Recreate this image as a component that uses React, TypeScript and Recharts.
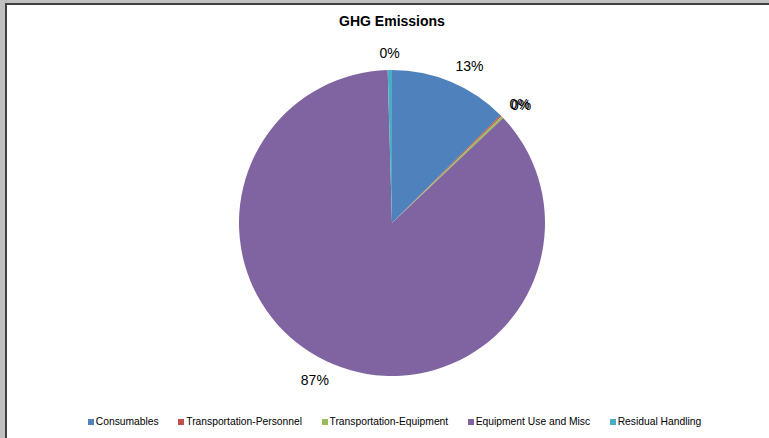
import { PieChart, Pie, Cell, Legend } from "recharts";

const categories = [
  "Consumables",
  "Transportation-Personnel",
  "Transportation-Equipment",
  "Equipment Use and Misc",
  "Residual Handling",
];

const emissionShares = [12.55, 0.15, 0.25, 86.6, 0.45];

const sliceColors = ["#4F81BD", "#C0504D", "#9BBB59", "#8064A2", "#4BACC6"];

const chartData = categories.map((name, i) => ({
  name,
  value: emissionShares[i],
  color: sliceColors[i],
}));

const RADIAN = Math.PI / 180;

const renderLabel = (props: any) => {
  const { cx, cy, midAngle, outerRadius, percent } = props;
  const r = outerRadius + 12;
  const cos = Math.cos(-midAngle * RADIAN);
  const sin = Math.sin(-midAngle * RADIAN);
  const x = cx + r * cos;
  const y = cy + r * sin + sin * 5;
  const anchor = cos > 0.2 ? "start" : cos < -0.2 ? "end" : "middle";
  return (
    <text
      x={x}
      y={y}
      textAnchor={anchor}
      dominantBaseline="central"
      fill="#000"
      fontSize={14}
      fontFamily="'Liberation Sans', Arial, sans-serif"
    >
      {`${Math.round(percent * 100)}%`}
    </text>
  );
};

const renderLegend = () => (
  <div
    style={{
      display: "flex",
      justifyContent: "center",
      gap: 19.5,
      fontFamily: "'Liberation Sans', Arial, sans-serif",
      fontSize: 10.3,
      color: "#000",
      paddingLeft: 20,
    }}
  >
    {chartData.map((d) => (
      <div key={d.name} style={{ display: "flex", alignItems: "center" }}>
        <span
          style={{ width: 6, height: 6, background: d.color, marginRight: 2, display: "inline-block" }}
        />
        <span>{d.name}</span>
      </div>
    ))}
  </div>
);

export default function App() {
  return (
    <div style={{ position: "absolute", left: 0, top: 0, width: 769, height: 438, background: "#c0c0c0", overflow: "hidden" }}>
      <div
        style={{
          position: "absolute",
          left: 5,
          top: 3,
          width: 769,
          height: 438,
          background: "#fff",
          borderLeft: "2px solid #404040",
          borderTop: "2px solid #404040",
        }}
      />
      <div
        style={{
          position: "absolute",
          left: 0,
          top: 13,
          width: 784,
          textAlign: "center",
          fontFamily: "'Liberation Sans', Arial, sans-serif",
          fontWeight: "bold",
          fontSize: 14,
          color: "#000",
        }}
      >
        GHG Emissions
      </div>
      <div style={{ position: "absolute", left: 0, top: 0 }}>
        <PieChart width={769} height={438} margin={{ top: 0, right: 0, bottom: 0, left: 0 }}>
          <Pie
            data={chartData}
            dataKey="value"
            nameKey="name"
            cx={392}
            cy={223}
            outerRadius={153}
            startAngle={90}
            endAngle={-270}
            stroke="none"
            label={renderLabel}
            labelLine={false}
            isAnimationActive={false}
          >
            {chartData.map((d, i) => (
              <Cell key={i} fill={d.color} />
            ))}
          </Pie>
          <Legend
            content={renderLegend}
            wrapperStyle={{ position: "absolute", top: 416, left: 0, width: 769 }}
          />
        </PieChart>
      </div>
    </div>
  );
}
